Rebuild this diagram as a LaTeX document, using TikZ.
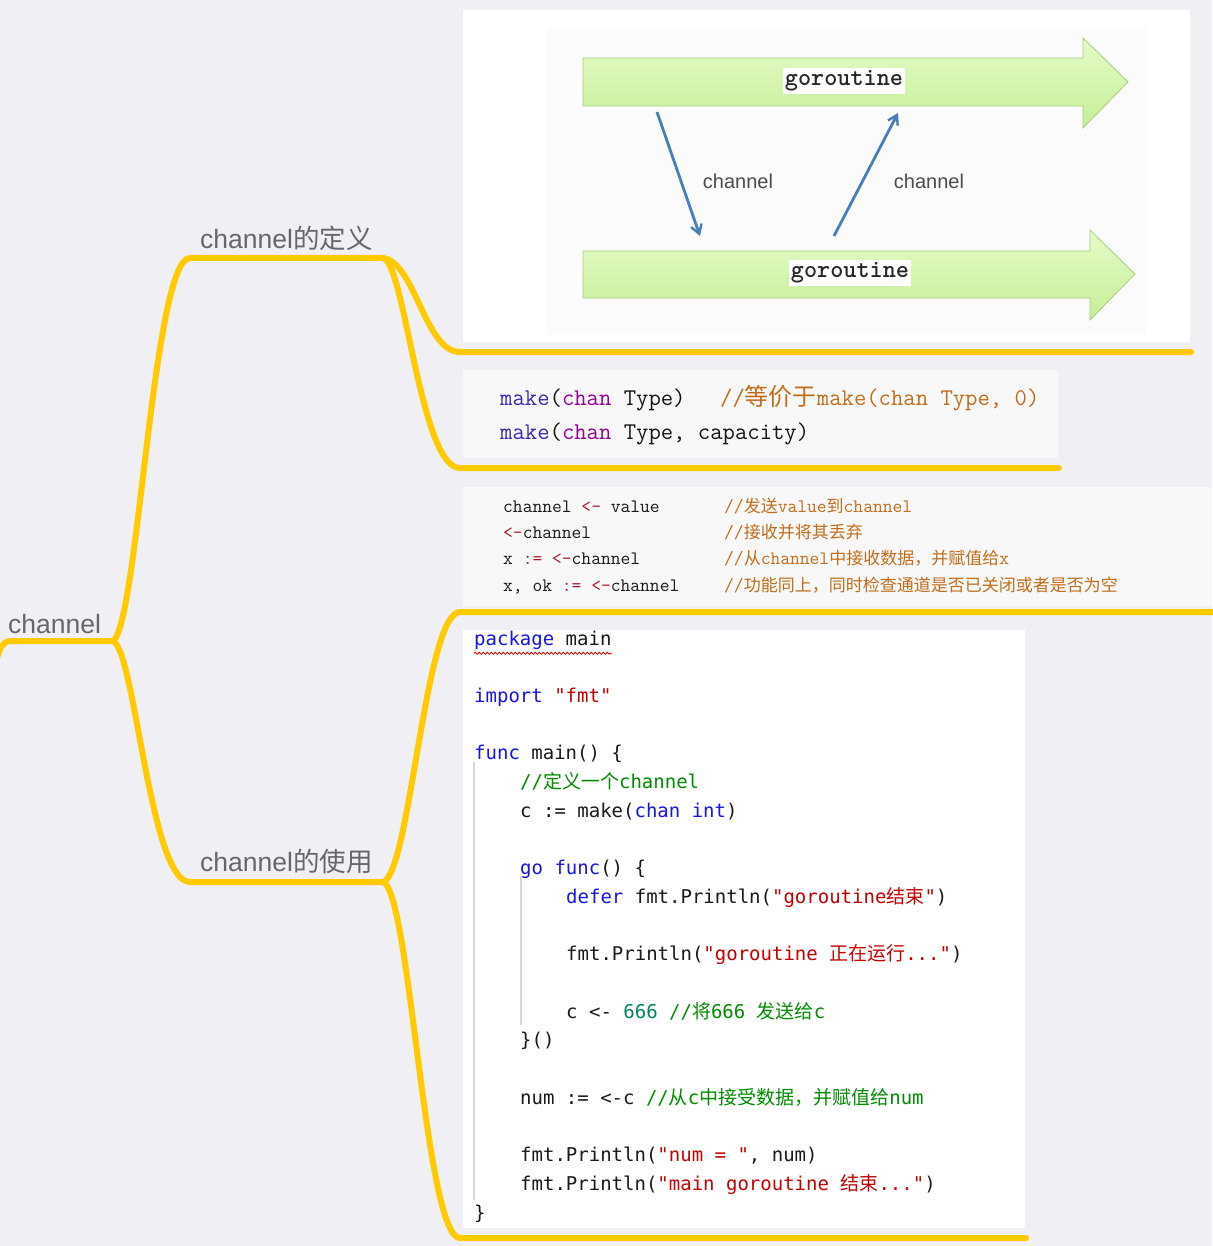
\documentclass[tikz,border=0pt]{standalone}
\usepackage{fontspec}
\setmainfont{Liberation Sans}
\newfontfamily\cjk{Noto Sans CJK SC}
\newfontfamily\menlo[WordSpace={1,0,0}]{DejaVu Sans Mono}
\usetikzlibrary{decorations.pathmorphing,arrows.meta}

\definecolor{bgc}{RGB}{239,239,244}
\definecolor{branch}{RGB}{255,202,0}
\definecolor{labelgray}{RGB}{102,102,108}
\definecolor{codebg}{RGB}{248,248,248}
\definecolor{mkblue}{RGB}{58,40,178}
\definecolor{chanpurple}{RGB}{150,0,150}
\definecolor{cmtorange}{RGB}{196,108,28}
\definecolor{oprd}{RGB}{172,22,42}
\definecolor{kwblue}{RGB}{22,22,228}
\definecolor{strred}{RGB}{196,0,0}
\definecolor{cmtgreen}{RGB}{0,140,0}
\definecolor{numteal}{RGB}{0,132,100}
\definecolor{greenA}{RGB}{228,251,200}
\definecolor{greenB}{RGB}{198,238,150}
\definecolor{greenedge}{RGB}{168,204,130}
\definecolor{chblue}{RGB}{72,126,186}
\definecolor{guide}{RGB}{214,214,214}

\newcommand\zh[1]{{\cjk #1}}
\newcommand\zhb[1]{{\cjk\fontsize{17}{17}\selectfont #1}}

\tikzset{
  mm/.style={draw=branch, line width=6pt, line cap=round, line join=round},
  lbl/.style={anchor=base west, inner sep=0pt, text=labelgray,
    font=\fontsize{26.5}{26.5}\selectfont},
  codeA/.style={anchor=base west, inner sep=0pt, text=black!92,
    font=\ttfamily\fontsize{24}{24}\selectfont},
  codeB/.style={anchor=base west, inner sep=0pt, text=black!90,
    font=\ttfamily\fontsize{19}{19}\selectfont},
  codeC/.style={anchor=base west, inner sep=0pt, text=black!90,
    font=\menlo\fontsize{19}{19}\selectfont},
  gorbox/.style={fill=white, inner xsep=2pt, inner ysep=3pt, text=black!85,
    font=\ttfamily\bfseries\fontsize{25}{25}\selectfont},
  chlabel/.style={inner sep=0pt, text=black!70, font=\fontsize{20}{20}\selectfont},
  bigarrow/.style={draw=greenedge, line width=0.8pt, top color=greenA, bottom color=greenB},
  charrow/.style={draw=chblue, line width=2.8pt, -{Straight Barb[length=9pt,width=11pt,line width=2.4pt]}},
}

\begin{document}
\begin{tikzpicture}[x=1pt,y=-1pt]
  \fill[bgc] (0,0) rectangle (1212,1246);
  \useasboundingbox (0,0) rectangle (1212,1246);

  % ---- mind map branches ----
  \coordinate (rootL) at (-4,662);
  \coordinate (J0) at (113,641);
  \coordinate (defL) at (190,258);
  \coordinate (J1) at (383,258);
  \coordinate (useL) at (190,882);
  \coordinate (J2) at (383,882);
  \coordinate (imgL) at (460,352);  \coordinate (imgR) at (1191,352);
  \coordinate (mkL) at (460,468);   \coordinate (mkR) at (1059,468);
  \coordinate (opL) at (460,612);   \coordinate (opR) at (1216,612);
  \coordinate (cdL) at (460,1238);  \coordinate (cdR) at (1026,1238);

  \draw[mm] (rootL) .. controls (0,646) and (3,641) .. (12,641) -- (J0);
  \draw[mm] (J0) .. controls (138,625) and (153,258) .. (defL) -- (J1);
  \draw[mm] (J0) .. controls (135,650) and (150,882) .. (useL) -- (J2);
  \draw[mm] (J1) .. controls (415,262) and (425,352) .. (imgL) -- (imgR);
  \draw[mm] (J1) .. controls (405,262) and (420,468) .. (mkL) -- (mkR);
  \draw[mm] (J2) .. controls (410,875) and (425,612) .. (opL) -- (opR);
  \draw[mm] (J2) .. controls (410,890) and (425,1238) .. (cdL) -- (cdR);

  \node[lbl] (root) at (8,633) {channel};
  \node[lbl] (def) at (200,249) {channel\zh{的定义}};
  \node[lbl] (use) at (200,871) {channel\zh{的使用}};

  % ---- goroutine / channel sketch ----
  \fill[white] (463,10) rectangle (1190,342);
  \fill[black!1.5] (546,28) rectangle (1147,335);
  \path[bigarrow] (583,58) -- (1083,58) -- (1083,38) -- (1128,82) -- (1083,128)
    -- (1083,106) -- (583,106) -- cycle;
  \path[bigarrow] (583,251) -- (1090,251) -- (1090,230) -- (1135,274) -- (1090,320)
    -- (1090,298) -- (583,298) -- cycle;
  \node[gorbox] (g1) at (844,81) {goroutine};
  \node[gorbox] (g2) at (850,273) {goroutine};
  \coordinate (down0) at (657,112);
  \coordinate (down1) at (700,236);
  \coordinate (up0) at (834,236);
  \coordinate (up1) at (898,113);
  \draw[charrow] (down0) -- (down1);
  \draw[charrow] (up0) -- (up1);
  \node[chlabel] (ch1) at (738,181) {channel};
  \node[chlabel] (ch2) at (929,181) {channel};

  % ---- make(...) block ----
  \fill[codebg] (463,370) rectangle (1058,458);
  \node[codeA] (mk1) at (500,405) {\textcolor{mkblue}{make}(\textcolor{chanpurple}{chan} Type)};
  \node[codeA, text=cmtorange] (mk1c) at (720,405) {//\zh{等价于}make(chan Type, 0)};
  \node[codeA] (mk2) at (500,439) {\textcolor{mkblue}{make}(\textcolor{chanpurple}{chan} Type, capacity)};

  % ---- channel operations block ----
  \fill[codebg] (463,487) rectangle (1212,606);
  \node[codeB] (op1) at (503,512) {channel \textcolor{oprd}{<-} value};
  \node[codeB] (op2) at (503,538) {\textcolor{oprd}{<-}channel};
  \node[codeB] (op3) at (503,564) {x \textcolor{oprd}{:=} \textcolor{oprd}{<-}channel};
  \node[codeB] (op4) at (503,591) {x, ok \textcolor{oprd}{:=} \textcolor{oprd}{<-}channel};
  \node[codeB, text=cmtorange] (op1c) at (724,512) {//\zhb{发送}value\zhb{到}channel};
  \node[codeB, text=cmtorange] (op2c) at (724,538) {//\zhb{接收并将其丢弃}};
  \node[codeB, text=cmtorange] (op3c) at (724,564) {//\zhb{从}channel\zhb{中接收数据，并赋值给}x};
  \node[codeB, text=cmtorange] (op4c) at (724,591) {//\zhb{功能同上，同时检查通道是否已关闭或者是否为空}};

  % ---- Go program ----
  \fill[white] (463,630) rectangle (1025,1228);
  \draw[guide, line width=1.6pt] (474,762) -- (474,1200);
  \draw[guide, line width=1.6pt] (521,876) -- (521,1025);
  \node[codeC] (l00) at (474,645) {\textcolor{kwblue}{package} main};
  \draw[red!85!black, line width=0.8pt, decorate,
    decoration={snake, amplitude=1.1pt, segment length=4pt}] (l00.south west) ++(0,4) -- ++(138,0);
  \node[codeC] (l02) at (474,702.4) {\textcolor{kwblue}{import} \textcolor{strred}{"fmt"}};
  \node[codeC] (l04) at (474,759.8) {\textcolor{kwblue}{func} main() \{};
  \node[codeC, text=cmtgreen] (l05) at (520,788.5) {//\zh{定义一个}channel};
  \node[codeC] (l06) at (520,817.2) {c := make(\textcolor{kwblue}{chan int})};
  \node[codeC] (l08) at (520,874.6) {\textcolor{kwblue}{go func}() \{};
  \node[codeC] (l09) at (566,903.3) {\textcolor{kwblue}{defer} fmt.Println(\textcolor{strred}{"goroutine\zh{结束}"})};
  \node[codeC] (l11) at (566,960.7) {fmt.Println(\textcolor{strred}{"goroutine \zh{正在运行}..."})};
  \node[codeC] (l13) at (566,1018.1) {c <- \textcolor{numteal}{666} \textcolor{cmtgreen}{//\zh{将}666 \zh{发送给}c}};
  \node[codeC] (l14) at (520,1046.8) {\}()};
  \node[codeC] (l16) at (520,1104.2) {num := <-c \textcolor{cmtgreen}{//\zh{从}c\zh{中接受数据，并赋值给}num}};
  \node[codeC] (l18) at (520,1161.6) {fmt.Println(\textcolor{strred}{"num = "}, num)};
  \node[codeC] (l19) at (520,1190.3) {fmt.Println(\textcolor{strred}{"main goroutine \zh{结束}..."})};
  \node[codeC] (l20) at (474,1219) {\}};
\end{tikzpicture}
\end{document}
